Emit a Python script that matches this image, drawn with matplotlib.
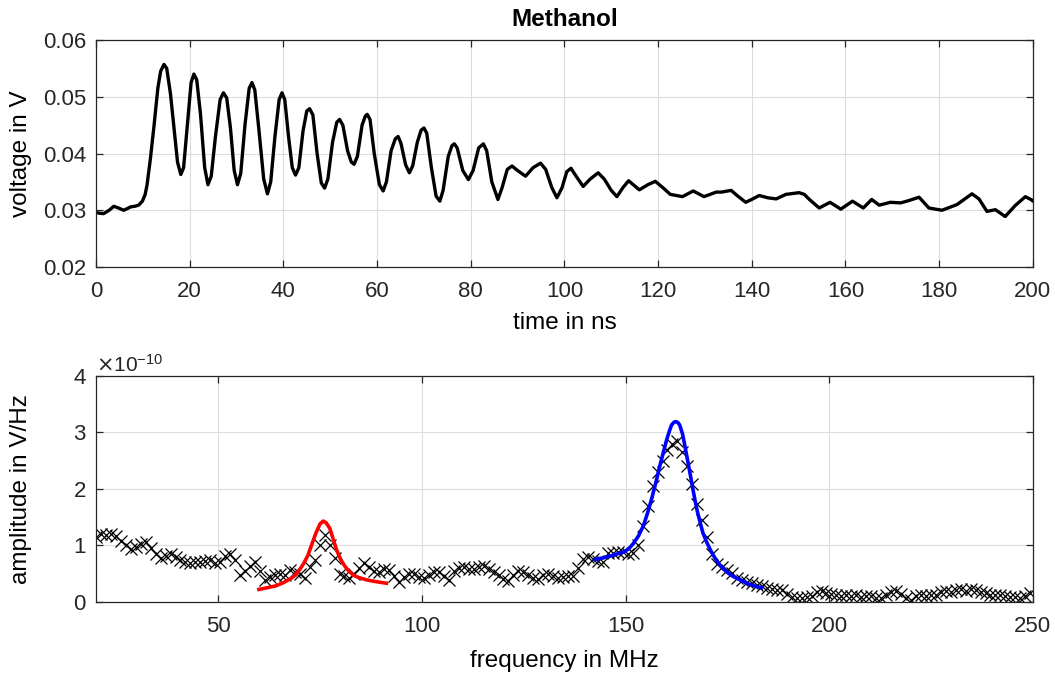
import numpy as np
import matplotlib
matplotlib.use("Agg")
import matplotlib.pyplot as plt
from matplotlib.ticker import ScalarFormatter

plt.rcParams['font.family'] = ['Liberation Sans', 'DejaVu Sans']

# --- top panel: time signal ---
time_ns = [0.0, 0.6, 1.6, 2.8, 3.8, 4.8, 5.9, 6.7, 7.4, 8.3, 9.1, 9.9, 10.5, 10.9,
           11.6, 12.4, 13.2, 13.8, 14.5, 15.1, 15.9, 16.7, 17.4, 18.1, 18.7, 19.5,
           20.3, 20.9, 21.5, 22.3, 23.2, 23.9, 24.6, 25.5, 26.5, 27.2, 27.9, 28.7,
           29.5, 30.2, 30.9, 31.8, 32.7, 33.3, 33.9, 34.8, 35.8, 36.6, 37.3, 38.2,
           39.1, 39.7, 40.3, 41.1, 41.9, 42.6, 43.3, 44.2, 45.0, 45.6, 46.3, 47.2,
           48.1, 48.8, 49.5, 50.5, 51.4, 52.0, 52.7, 53.7, 54.5, 55.1, 55.8, 56.8,
           57.5, 57.9, 58.5, 59.4, 60.5, 61.3, 62.0, 63.0, 63.9, 64.5, 65.1, 66.1,
           66.9, 67.6, 68.6, 69.4, 70.0, 70.6, 71.6, 72.6, 73.4, 74.1, 75.2, 76.0,
           76.5, 77.1, 78.3, 79.5, 80.5, 81.7, 82.7, 83.4, 84.5, 85.8, 86.7, 87.8,
           88.8, 90.0, 91.7, 93.3, 94.9, 96.0, 97.3, 98.4, 99.5, 100.5, 101.4, 102.5,
           104.0, 105.5, 107.2, 108.5, 110.0, 111.2, 112.5, 113.7, 116.0, 117.8,
           119.4, 121.0, 122.6, 125.2, 127.5, 129.8, 132.4, 133.5, 135.6, 137.0,
           138.7, 140.2, 141.6, 143.4, 145.2, 147.3, 150.1, 151.2, 152.3, 154.4,
           156.7, 159.0, 161.5, 163.8, 165.6, 167.2, 169.6, 171.8, 173.5, 175.7,
           176.6, 177.8, 180.6, 183.8, 185.5, 187.0, 188.5, 190.2, 192.0, 194.1,
           196.2, 198.4, 199.8, 200.0]
voltage_v = [0.0296, 0.0295, 0.0294, 0.0300, 0.0307, 0.0304, 0.0300, 0.0303, 0.0306,
             0.0307, 0.0309, 0.0316, 0.0328, 0.0345, 0.0390, 0.0450, 0.0515, 0.0545,
             0.0557, 0.0550, 0.0505, 0.0440, 0.0385, 0.0363, 0.0375, 0.0450, 0.0525,
             0.0540, 0.0530, 0.0470, 0.0375, 0.0345, 0.0360, 0.0430, 0.0495, 0.0507,
             0.0498, 0.0445, 0.0370, 0.0345, 0.0365, 0.0450, 0.0515, 0.0525, 0.0512,
             0.0440, 0.0355, 0.0329, 0.0350, 0.0430, 0.0495, 0.0507, 0.0495, 0.0430,
             0.0375, 0.0362, 0.0375, 0.0440, 0.0475, 0.0479, 0.0468, 0.0400, 0.0348,
             0.0339, 0.0355, 0.0420, 0.0455, 0.0460, 0.0450, 0.0405, 0.0385, 0.0381,
             0.0395, 0.0450, 0.0466, 0.0469, 0.0460, 0.0400, 0.0345, 0.0334, 0.0350,
             0.0405, 0.0426, 0.0430, 0.0418, 0.0380, 0.0366, 0.0378, 0.0420, 0.0441,
             0.0445, 0.0436, 0.0375, 0.0325, 0.0316, 0.0335, 0.0395, 0.0414, 0.0417,
             0.0410, 0.0370, 0.0354, 0.0370, 0.0410, 0.0417, 0.0405, 0.0350, 0.0319,
             0.0340, 0.0372, 0.0378, 0.0370, 0.0360, 0.0375, 0.0383, 0.0372, 0.0340,
             0.0322, 0.0340, 0.0368, 0.0374, 0.0360, 0.0342, 0.0355, 0.0366, 0.0355,
             0.0335, 0.0324, 0.0340, 0.0352, 0.0336, 0.0345, 0.0351, 0.0340, 0.0328,
             0.0324, 0.0334, 0.0324, 0.0332, 0.0332, 0.0335, 0.0325, 0.0314, 0.0320,
             0.0326, 0.0322, 0.0320, 0.0328, 0.0331, 0.0328, 0.0319, 0.0304, 0.0314,
             0.0302, 0.0316, 0.0304, 0.0319, 0.0309, 0.0314, 0.0313, 0.0317, 0.0323,
             0.0315, 0.0304, 0.0300, 0.0310, 0.0320, 0.0329, 0.0320, 0.0298, 0.0301,
             0.0289, 0.0308, 0.0324, 0.0318, 0.0316]

# --- bottom panel: spectrum, amplitude in units of 1e-10 V/Hz ---
freq_step = 1.22
amp_e10 = [1.15, 1.20, 1.18, 1.20, 1.17, 1.08, 1.00, 0.94, 0.97, 1.03,
           1.06, 0.95, 0.85, 0.77, 0.82, 0.85, 0.79, 0.74, 0.70, 0.68,
           0.71, 0.70, 0.73, 0.74, 0.68, 0.70, 0.82, 0.85, 0.74, 0.47,
           0.55, 0.64, 0.71, 0.55, 0.39, 0.44, 0.48, 0.50, 0.47, 0.56,
           0.53, 0.50, 0.42, 0.62, 0.74, 1.00, 1.18, 1.00, 0.78, 0.50,
           0.45, 0.42, 0.50, 0.60, 0.68, 0.62, 0.55, 0.53, 0.58, 0.57,
           0.45, 0.35, 0.44, 0.50, 0.50, 0.44, 0.42, 0.47, 0.53, 0.52,
           0.45, 0.39, 0.55, 0.60, 0.61, 0.59, 0.59, 0.61, 0.63, 0.58,
           0.52, 0.47, 0.40, 0.37, 0.47, 0.55, 0.53, 0.48, 0.42, 0.40,
           0.48, 0.49, 0.45, 0.42, 0.44, 0.46, 0.45, 0.60, 0.75, 0.80,
           0.76, 0.72, 0.70, 0.86, 0.87, 0.88, 0.88, 0.84, 0.87, 1.00,
           1.35, 1.70, 2.05, 2.30, 2.50, 2.68, 2.80, 2.85, 2.65, 2.40,
           2.08, 1.73, 1.45, 1.15, 0.85, 0.67, 0.61, 0.56, 0.51, 0.43,
           0.38, 0.35, 0.33, 0.30, 0.28, 0.25, 0.23, 0.21, 0.21, 0.14,
           0.08, 0.06, 0.06, 0.08, 0.10, 0.18, 0.20, 0.16, 0.14, 0.12,
           0.11, 0.12, 0.10, 0.12, 0.09, 0.11, 0.10, 0.07, 0.06, 0.13,
           0.18, 0.20, 0.14, 0.07, 0.04, 0.10, 0.13, 0.11, 0.13, 0.12,
           0.17, 0.20, 0.18, 0.21, 0.22, 0.20, 0.22, 0.21, 0.17, 0.15,
           0.13, 0.12, 0.12, 0.10, 0.09, 0.08, 0.07, 0.11, 0.16]
freq_mhz = 20 + freq_step * np.arange(len(amp_e10))

# fitted resonance curves
fit1_f = [60.0, 62.0, 64.0, 66.0, 68.0, 69.0, 70.0, 71.0, 72.0, 73.0, 74.0, 75.0,
          75.8, 76.5, 77.4, 78.2, 79.0, 80.0, 81.0, 82.0, 83.2, 84.5, 86.4, 88.5, 91.3]
fit1_a = [0.22, 0.25, 0.28, 0.34, 0.42, 0.48, 0.57, 0.68, 0.82, 1.02, 1.22, 1.38,
          1.43, 1.40, 1.30, 1.12, 0.93, 0.76, 0.64, 0.55, 0.47, 0.43, 0.39, 0.36, 0.33]
fit2_f = [142.5, 144.5, 146.2, 148.0, 149.5, 150.8, 151.9, 153.2, 154.4, 155.4,
          156.4, 157.4, 158.4, 159.3, 160.1, 160.8, 161.3, 161.9, 162.4, 162.9,
          163.3, 164.0, 164.6, 165.2, 165.8, 166.4, 167.0, 167.6, 168.3, 169.0,
          169.9, 170.9, 172.0, 173.3, 174.8, 176.4, 178.1, 180.0, 182.2, 183.4]
fit2_a = [0.75, 0.78, 0.81, 0.85, 0.88, 0.94, 1.03, 1.17, 1.35, 1.57,
          1.82, 2.10, 2.40, 2.65, 2.87, 3.03, 3.13, 3.18, 3.19, 3.17,
          3.13, 2.97, 2.75, 2.52, 2.29, 2.05, 1.82, 1.61, 1.41, 1.22,
          1.06, 0.91, 0.77, 0.64, 0.53, 0.45, 0.39, 0.32, 0.27, 0.25]

axis_col = '#262626'
grid_col = '#dcdcdc'


def style_axes(ax):
    ax.grid(True, color=grid_col, linewidth=0.8)
    ax.set_axisbelow(True)
    for sp in ax.spines.values():
        sp.set_color(axis_col)
        sp.set_linewidth(0.9)
    ax.tick_params(direction='in', length=5, width=0.9, colors=axis_col,
                   labelcolor='#262626', labelsize=16, top=True, right=True,
                   pad=7)
    ax.tick_params(axis='x', pad=10)


fig = plt.figure(figsize=(10.55, 6.77), dpi=100)
ax1 = fig.add_axes([0.091, 0.6056, 0.888, 0.3353])
ax2 = fig.add_axes([0.091, 0.111, 0.888, 0.3338])

ax1.plot(time_ns, voltage_v, color='black', linewidth=2.4,
         solid_joinstyle='round', solid_capstyle='round')
ax1.set_xlim(0, 200)
ax1.set_ylim(0.02, 0.06)
ax1.set_xticks(np.arange(0, 201, 20))
ax1.set_yticks([0.02, 0.03, 0.04, 0.05, 0.06])
ax1.set_yticklabels(['0.02', '0.03', '0.04', '0.05', '0.06'])
style_axes(ax1)
ax1.set_title('Methanol', fontsize=17.5, fontweight='bold', pad=10)
ax1.set_xlabel('time in ns', fontsize=17.5)
ax1.set_ylabel('voltage in V', fontsize=17.5)
ax1.xaxis.set_label_coords(0.5, -0.20, transform=ax1.transAxes)
ax1.xaxis.label.set_va('top')
ax1.yaxis.set_label_coords(-0.068, 0.5)

amp = np.array(amp_e10) * 1e-10
ax2.plot(freq_mhz, amp, linestyle='none', marker='x', markersize=8,
         markeredgewidth=0.9, color='black')
ax2.plot(fit1_f, np.array(fit1_a) * 1e-10, color='#ff0000', linewidth=2.6)
ax2.plot(fit2_f, np.array(fit2_a) * 1e-10, color='#0000ff', linewidth=2.6)
ax2.set_xlim(20, 250)
ax2.set_ylim(0, 4e-10)
ax2.set_xticks([50, 100, 150, 200, 250])
ax2.set_yticks(np.arange(0, 5) * 1e-10)
fmt = ScalarFormatter(useMathText=True)
fmt.set_powerlimits((0, 0))
ax2.yaxis.set_major_formatter(fmt)
style_axes(ax2)
ax2.yaxis.get_offset_text().set_fontsize(15)
ax2.yaxis.get_offset_text().set_color(axis_col)
ax2.set_xlabel('frequency in MHz', fontsize=17.5)
ax2.set_ylabel('amplitude in V/Hz', fontsize=17.5)
ax2.xaxis.set_label_coords(0.5, -0.215, transform=ax2.transAxes)
ax2.xaxis.label.set_va('top')
ax2.yaxis.set_label_coords(-0.068, 0.5)

fig.savefig('out.png', dpi=100)
